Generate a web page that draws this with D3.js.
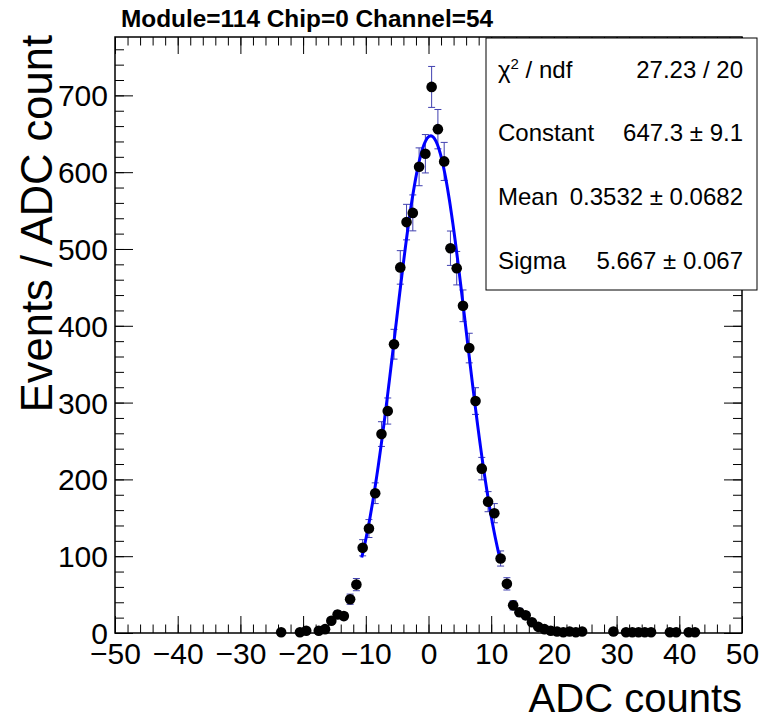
<!DOCTYPE html>
<meta charset="utf-8">
<html>
<head>
  <script src="https://d3js.org/d3.v7.min.js" charset="utf-8"></script>
</head>
<style>
body { margin: 0; background-color: white; }
* { font-family: "Liberation Sans", Arial, sans-serif; }
.tick text { font-size: 30px; fill: black; }
.tick line { stroke: black; stroke-width: 1; }
</style>
<body>
<div id="container"></div>
<script type="text/javascript">

// histogram bins (bin centres, ADC counts) and counts
var binCenters = [-23.5, -20.5, -19.5, -17.5, -16.5, -15.5, -14.5, -13.5, -12.5, -11.5,
                  -10.5, -9.5, -8.5, -7.5, -6.5, -5.5, -4.5, -3.5, -2.5, -1.5,
                  -0.5, 0.5, 1.5, 2.5, 3.5, 4.5, 5.5, 6.5, 7.5, 8.5,
                  9.5, 10.5, 11.5, 12.5, 13.5, 14.5, 15.5, 16.5, 17.5, 18.5,
                  19.5, 20.5, 21.5, 22.5, 23.5, 24.5, 29.5, 31.5, 32.5, 33.5,
                  34.5, 35.5, 38.5, 39.5, 41.5, 42.5]
var counts = [1, 1, 3, 3, 5, 16, 24, 22, 44, 63,
              111, 136, 182, 259, 289, 376, 476, 535, 547, 607,
              624, 711, 656, 614, 501, 475, 426, 371, 302, 214,
              171, 156, 97, 64, 36, 27, 23, 14, 8, 5,
              3, 2, 1, 2, 1, 2, 2, 1, 1, 1,
              1, 1, 1, 1, 1, 1]

// gaussian fit result and range
var fitConstant = 647.3
var fitMean = 0.3532
var fitSigma = 5.667
var fitRange = [-10.65, 11.4]

// tick values
var xMajor = [-50, -40, -30, -20, -10, 0, 10, 20, 30, 40, 50]
var yMajor = [0, 100, 200, 300, 400, 500, 600, 700]

// stats box rows
var statLabels = ["χ2 / ndf", "Constant", "Mean", "Sigma"]
var statValues = ["27.23 / 20", "647.3 ± 9.1", "0.3532 ± 0.0682", "5.667 ± 0.067"]

var width = 762
var height = 722
var frame = {left: 115, right: 742, top: 37, bottom: 633}

var svg = d3.select("#container")
            .append("svg")
            .attr("width", width)
            .attr("height", height)

var x = d3.scaleLinear().domain([-50, 50]).range([frame.left, frame.right])
var y = d3.scaleLinear().domain([0, 776]).range([frame.bottom, frame.top])

var xMinor = d3.range(-50, 50.1, 2)
var yMinor = d3.range(0, 776, 20)

// axes: ticks point into the frame
function drawAxis(gen, tx, ty) {
  var g = svg.append("g").attr("transform", "translate(" + tx + "," + ty + ")").call(gen)
  g.select(".domain").remove()
  return g
}

drawAxis(d3.axisBottom(x).tickValues(xMinor).tickSizeInner(-8.5).tickSizeOuter(0).tickFormat(""), 0, frame.bottom)
drawAxis(d3.axisBottom(x).tickValues(xMajor).tickSizeInner(-17).tickSizeOuter(0).tickPadding(10), 0, frame.bottom)
drawAxis(d3.axisTop(x).tickValues(xMinor).tickSizeInner(-8.5).tickSizeOuter(0).tickFormat(""), 0, frame.top)
drawAxis(d3.axisTop(x).tickValues(xMajor).tickSizeInner(-17).tickSizeOuter(0).tickFormat(""), 0, frame.top)

drawAxis(d3.axisLeft(y).tickValues(yMinor).tickSizeInner(-9).tickSizeOuter(0).tickFormat(""), frame.left, 0)
drawAxis(d3.axisLeft(y).tickValues(yMajor).tickSizeInner(-18).tickSizeOuter(0).tickPadding(7), frame.left, 0)
  .selectAll("text").attr("dy", "0.35em")
drawAxis(d3.axisRight(y).tickValues(yMinor).tickSizeInner(-9).tickSizeOuter(0).tickFormat(""), frame.right, 0)
drawAxis(d3.axisRight(y).tickValues(yMajor).tickSizeInner(-18).tickSizeOuter(0).tickFormat(""), frame.right, 0)

svg.append("rect")
   .attr("x", frame.left)
   .attr("y", frame.top)
   .attr("width", frame.right - frame.left)
   .attr("height", frame.bottom - frame.top)
   .attr("fill", "none")
   .attr("stroke", "black")
   .attr("stroke-width", 1.5)

var bins = binCenters.map((c, i) => ({x: c, v: counts[i]}))

// error bars (sqrt N) with small end caps
var errG = svg.append("g").attr("stroke", "#4040b0").attr("stroke-width", 1)
errG.selectAll("line.bar")
    .data(bins)
    .enter()
    .append("line")
    .attr("x1", (d) => x(d.x))
    .attr("x2", (d) => x(d.x))
    .attr("y1", (d) => y(d.v + Math.sqrt(d.v)))
    .attr("y2", (d) => y(d.v - Math.sqrt(d.v)))
errG.selectAll("line.capTop")
    .data(bins)
    .enter()
    .append("line")
    .attr("x1", (d) => x(d.x) - 3.5)
    .attr("x2", (d) => x(d.x) + 3.5)
    .attr("y1", (d) => y(d.v + Math.sqrt(d.v)))
    .attr("y2", (d) => y(d.v + Math.sqrt(d.v)))
errG.selectAll("line.capBot")
    .data(bins)
    .enter()
    .append("line")
    .attr("x1", (d) => x(d.x) - 3.5)
    .attr("x2", (d) => x(d.x) + 3.5)
    .attr("y1", (d) => y(d.v - Math.sqrt(d.v)))
    .attr("y2", (d) => y(d.v - Math.sqrt(d.v)))

// fit curve
var gaus = (t) => fitConstant * Math.exp(-0.5 * Math.pow((t - fitMean) / fitSigma, 2))
var curvePts = d3.range(fitRange[0], fitRange[1] + 0.001, (fitRange[1] - fitRange[0]) / 200)
svg.append("path")
   .datum(curvePts)
   .attr("fill", "none")
   .attr("stroke", "#0000ff")
   .attr("stroke-width", 3)
   .attr("d", d3.line().x((d) => x(d)).y((d) => y(gaus(d))))

// markers
svg.selectAll("circle.marker")
   .data(bins)
   .enter()
   .append("circle")
   .attr("cx", (d) => x(d.x))
   .attr("cy", (d) => y(d.v))
   .attr("r", 5.3)
   .attr("fill", "black")

// title
svg.append("text")
   .attr("x", 121)
   .attr("y", 27)
   .attr("font-size", 24.4)
   .attr("font-weight", "bold")
   .text("Module=114 Chip=0 Channel=54")

// axis titles
svg.append("text")
   .attr("x", frame.right)
   .attr("y", 712)
   .attr("text-anchor", "end")
   .attr("font-size", 40)
   .text("ADC counts")

svg.append("text")
   .attr("transform", "translate(52," + (frame.top - 2) + ") rotate(-90)")
   .attr("text-anchor", "end")
   .attr("font-size", 43.5)
   .text("Events / ADC count")

// stats box
var stats = svg.append("g")
stats.append("rect")
     .attr("x", 486)
     .attr("y", 38)
     .attr("width", 271)
     .attr("height", 252)
     .attr("fill", "white")
     .attr("stroke", "black")
     .attr("stroke-width", 1)

statLabels.forEach(function(lab, i) {
  var yy = 77.5 + i * 63.7
  var t = stats.append("text").attr("x", 498).attr("y", yy).attr("font-size", 24)
  if (i == 0) {
    t.append("tspan").text("χ")
    t.append("tspan").attr("font-size", 15).attr("dy", -9).text("2")
    t.append("tspan").attr("dy", 9).text(" / ndf")
  } else {
    t.text(lab)
  }
  stats.append("text")
       .attr("x", 743)
       .attr("y", yy)
       .attr("font-size", 24)
       .attr("text-anchor", "end")
       .text(statValues[i])
})

</script>
</body>
</html>
